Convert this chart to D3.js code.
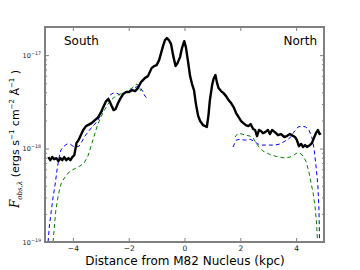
<!DOCTYPE html>
<html>
<head>
<meta charset="utf-8">
<script src="https://cdn.jsdelivr.net/npm/d3@7"></script>
<style>
  body { margin: 0; background: #fff; }
  svg { display: block; font-family: "DejaVu Sans", sans-serif; }
</style>
</head>
<body>
<div id="chart"></div>
<script>
// Flux profile along the M82 minor axis — [distance (kpc), flux (ergs s^-1 cm^-2 A^-1)]
var observed = [
  [-4.88, 8.1e-19], [-4.81, 7.5e-19], [-4.74, 8.1e-19], [-4.67, 7.7e-19], [-4.59, 7.9e-19],
  [-4.52, 7.35e-19], [-4.45, 7.9e-19], [-4.38, 7.5e-19], [-4.31, 8.1e-19], [-4.24, 7.5e-19],
  [-4.16, 7.9e-19], [-4.09, 7.5e-19], [-4.02, 8.1e-19], [-3.95, 8.5e-19], [-3.87, 1.15e-18],
  [-3.80, 1.23e-18], [-3.73, 1.36e-18], [-3.63, 1.58e-18], [-3.53, 1.74e-18], [-3.33, 1.87e-18],
  [-3.21, 2.02e-18], [-3.09, 2.17e-18], [-2.99, 2.46e-18], [-2.91, 2.78e-18], [-2.81, 3.22e-18],
  [-2.73, 3.38e-18], [-2.67, 3.14e-18], [-2.61, 2.85e-18], [-2.54, 2.58e-18], [-2.47, 2.65e-18],
  [-2.38, 3.07e-18], [-2.31, 3.38e-18], [-2.20, 3.83e-18], [-2.10, 4.02e-18], [-1.99, 4.02e-18],
  [-1.88, 4.22e-18], [-1.77, 4.12e-18], [-1.67, 4.44e-18], [-1.56, 5.14e-18], [-1.42, 5.68e-18],
  [-1.31, 5.96e-18], [-1.18, 7.26e-18], [-1.09, 7.63e-18], [-1.00, 7.82e-18], [-0.91, 8.84e-18],
  [-0.84, 1.05e-17], [-0.77, 1.25e-17], [-0.70, 1.45e-17], [-0.63, 1.52e-17], [-0.56, 1.45e-17],
  [-0.48, 1.31e-17], [-0.41, 1.0e-17], [-0.32, 7.63e-18], [-0.25, 8.21e-18], [-0.16, 9.52e-18],
  [-0.09, 1.19e-17], [-0.01, 1.41e-17], [0.05, 1.22e-17], [0.13, 8.42e-18], [0.20, 5.96e-18],
  [0.27, 4.90e-18], [0.34, 4.22e-18], [0.41, 2.99e-18], [0.49, 2.23e-18], [0.56, 1.97e-18],
  [0.67, 1.78e-18], [0.80, 1.70e-18], [0.86, 2.28e-18], [0.91, 3.30e-18], [0.99, 4.78e-18],
  [1.04, 5.54e-18], [1.11, 6.11e-18], [1.16, 5.14e-18], [1.22, 4.44e-18], [1.31, 4.12e-18],
  [1.40, 3.92e-18], [1.49, 3.64e-18], [1.58, 3.30e-18], [1.67, 3.07e-18], [1.76, 2.78e-18],
  [1.85, 2.40e-18], [1.94, 2.17e-18], [2.03, 1.97e-18], [2.11, 1.87e-18], [2.20, 1.78e-18],
  [2.29, 1.74e-18], [2.37, 1.83e-18], [2.46, 1.62e-18], [2.53, 1.58e-18], [2.60, 1.36e-18],
  [2.67, 1.58e-18], [2.74, 1.54e-18], [2.81, 1.46e-18], [2.89, 1.50e-18], [2.99, 1.58e-18],
  [3.06, 1.43e-18], [3.14, 1.58e-18], [3.24, 1.50e-18], [3.35, 1.39e-18], [3.46, 1.43e-18],
  [3.57, 1.33e-18], [3.67, 1.36e-18], [3.78, 1.43e-18], [3.85, 1.39e-18], [3.96, 1.33e-18],
  [4.03, 1.23e-18], [4.10, 1.06e-18], [4.18, 1.12e-18], [4.25, 1.04e-18], [4.32, 1.09e-18],
  [4.39, 1.04e-18], [4.50, 1.09e-18], [4.57, 1.15e-18], [4.64, 1.30e-18], [4.71, 1.46e-18],
  [4.78, 1.58e-18], [4.84, 1.43e-18], [4.89, 1.46e-18]
];

var blueSouth = [
  [-4.89, 1.0e-19], [-4.84, 1.52e-19], [-4.78, 2.09e-19], [-4.71, 3.03e-19], [-4.64, 4.07e-19],
  [-4.57, 5.89e-19], [-4.50, 7.91e-19], [-4.43, 9.64e-19], [-4.32, 1.06e-18], [-4.21, 1.12e-18],
  [-4.10, 1.12e-18], [-4.00, 1.06e-18], [-3.89, 1.04e-18], [-3.78, 1.06e-18], [-3.67, 1.20e-18],
  [-3.57, 1.36e-18], [-3.46, 1.50e-18], [-3.32, 1.70e-18], [-3.21, 1.83e-18], [-3.10, 2.02e-18],
  [-2.99, 2.34e-18], [-2.89, 2.78e-18], [-2.78, 3.30e-18], [-2.67, 3.73e-18], [-2.56, 3.92e-18],
  [-2.42, 3.92e-18], [-2.31, 3.73e-18], [-2.17, 3.83e-18], [-2.03, 4.12e-18], [-1.88, 4.33e-18],
  [-1.74, 4.55e-18], [-1.63, 4.66e-18], [-1.52, 4.22e-18], [-1.42, 3.64e-18], [-1.34, 3.47e-18]
];

var greenSouth = [
  [-4.71, 1.0e-19], [-4.66, 1.52e-19], [-4.61, 2.20e-19], [-4.54, 2.96e-19], [-4.47, 3.78e-19],
  [-4.40, 4.38e-19], [-4.28, 4.96e-19], [-4.17, 5.47e-19], [-4.03, 5.89e-19], [-3.89, 6.18e-19],
  [-3.75, 6.50e-19], [-3.60, 7.0e-19], [-3.46, 8.32e-19], [-3.35, 1.06e-18], [-3.24, 1.36e-18],
  [-3.14, 1.70e-18], [-3.03, 2.07e-18], [-2.89, 2.52e-18], [-2.74, 2.99e-18], [-2.60, 3.38e-18],
  [-2.46, 3.64e-18], [-2.31, 3.83e-18], [-2.17, 3.92e-18], [-2.03, 4.22e-18], [-1.88, 4.44e-18],
  [-1.77, 4.78e-18], [-1.70, 4.90e-18], [-1.63, 4.55e-18], [-1.56, 4.12e-18]
];

var blueNorth = [
  [1.74, 1.04e-18], [1.85, 1.23e-18], [1.99, 1.26e-18], [2.17, 1.23e-18], [2.35, 1.26e-18],
  [2.49, 1.20e-18], [2.63, 1.12e-18], [2.78, 1.09e-18], [2.92, 1.09e-18], [3.06, 1.09e-18],
  [3.24, 1.09e-18], [3.42, 1.12e-18], [3.60, 1.20e-18], [3.78, 1.30e-18], [3.92, 1.50e-18],
  [4.07, 1.70e-18], [4.21, 1.74e-18], [4.35, 1.70e-18], [4.46, 1.58e-18], [4.57, 1.30e-18],
  [4.64, 1.01e-18], [4.71, 6.66e-19], [4.78, 4.07e-19], [4.82, 2.20e-19], [4.84, 1.0e-19]
];

var greenNorth = [
  [1.81, 1.33e-18], [1.92, 1.46e-18], [2.06, 1.43e-18], [2.20, 1.39e-18], [2.35, 1.36e-18],
  [2.46, 1.30e-18], [2.56, 1.15e-18], [2.67, 1.04e-18], [2.81, 9.40e-19], [2.96, 8.95e-19],
  [3.10, 8.52e-19], [3.24, 8.32e-19], [3.42, 8.11e-19], [3.60, 7.91e-19], [3.78, 8.11e-19],
  [3.92, 8.52e-19], [4.03, 8.95e-19], [4.14, 8.95e-19], [4.25, 8.32e-19], [4.35, 7.35e-19],
  [4.46, 5.61e-19], [4.53, 4.38e-19], [4.61, 3.34e-19], [4.68, 2.37e-19], [4.73, 1.64e-19],
  [4.77, 1.0e-19]
];

var xTicks = [-4, -2, 0, 2, 4];
var xTickLabels = ['\u22124', '\u22122', '0', '2', '4'];
var yTicks = [1e-19, 1e-18, 1e-17];
var yTickExponents = ['\u221219', '\u221218', '\u221217'];
var yMinorTicks = [2e-19, 3e-19, 4e-19, 5e-19, 6e-19, 7e-19, 8e-19, 9e-19,
                   2e-18, 3e-18, 4e-18, 5e-18, 6e-18, 7e-18, 8e-18, 9e-18, 2e-17];

var W = 360, H = 270;
var L = 45, R = 324, T = 27, B = 242;
var frameColor = '#808080';

var svg = d3.select('#chart').append('svg')
  .attr('width', W)
  .attr('height', H);

var x = d3.scaleLinear().domain([-5, 5]).range([L, R]);
var y = d3.scaleLog().domain([1e-19, 2e-17]).range([B, T]);

svg.append('defs').append('clipPath').attr('id', 'plot-clip')
  .append('rect')
  .attr('x', L).attr('y', T)
  .attr('width', R - L).attr('height', B - T);

var line = d3.line()
  .x(function(d) { return x(d[0]); })
  .y(function(d) { return y(d[1]); });

var plot = svg.append('g').attr('clip-path', 'url(#plot-clip)');

// model curves (dashed)
[[blueSouth, '#0000ff'], [greenSouth, '#008000'], [blueNorth, '#0000ff'], [greenNorth, '#008000']]
  .forEach(function(s) {
    plot.append('path')
      .datum(s[0])
      .attr('d', line)
      .attr('fill', 'none')
      .attr('stroke', s[1])
      .attr('stroke-width', 1)
      .attr('stroke-dasharray', '4,3');
  });

// observed profile
plot.append('path')
  .datum(observed)
  .attr('d', line)
  .attr('fill', 'none')
  .attr('stroke', '#000')
  .attr('stroke-width', 2.4)
  .attr('stroke-linejoin', 'round');

// ── Axes ──────────────────────────────────────────────────────────────────────
function styleAxis(g) {
  g.select('.domain').remove();
  g.selectAll('.tick line').attr('stroke', frameColor).attr('stroke-width', 1);
}

svg.append('g')
  .attr('transform', 'translate(0,' + B + ')')
  .call(d3.axisBottom(x).tickValues(xTicks).tickSize(-4).tickPadding(4)
    .tickFormat(function(d, i) { return xTickLabels[i]; }))
  .call(styleAxis)
  .selectAll('text')
  .attr('font-size', 7.5)
  .attr('fill', '#222')
  .attr('font-family', '"DejaVu Sans", sans-serif');

svg.append('g')
  .attr('transform', 'translate(0,' + T + ')')
  .call(d3.axisTop(x).tickValues(xTicks).tickSize(-4).tickFormat(''))
  .call(styleAxis);

var yLeft = svg.append('g')
  .attr('transform', 'translate(' + L + ',0)')
  .call(d3.axisLeft(y).tickValues(yTicks).tickSize(-4).tickFormat(''))
  .call(styleAxis);

svg.append('g')
  .attr('transform', 'translate(' + L + ',0)')
  .call(d3.axisLeft(y).tickValues(yMinorTicks).tickSize(-2).tickFormat(''))
  .call(styleAxis);

svg.append('g')
  .attr('transform', 'translate(' + R + ',0)')
  .call(d3.axisRight(y).tickValues(yTicks).tickSize(-4).tickFormat(''))
  .call(styleAxis);

svg.append('g')
  .attr('transform', 'translate(' + R + ',0)')
  .call(d3.axisRight(y).tickValues(yMinorTicks).tickSize(-2).tickFormat(''))
  .call(styleAxis);

// 10^n labels with superscript exponent
yLeft.selectAll('.tick').each(function(d, i) {
  var t = d3.select(this).append('text')
    .attr('x', -4)
    .attr('y', 2)
    .attr('text-anchor', 'end')
    .attr('fill', '#222')
    .attr('font-size', 6.5)
    .attr('font-family', '"DejaVu Sans", sans-serif');
  t.append('tspan').text('10');
  t.append('tspan').attr('dy', -3).attr('font-size', 4.8).text(yTickExponents[i]);
});

// frame
svg.append('rect')
  .attr('x', L).attr('y', T)
  .attr('width', R - L).attr('height', B - T)
  .attr('fill', 'none')
  .attr('stroke', frameColor)
  .attr('stroke-width', 2);

// ── Labels ────────────────────────────────────────────────────────────────────
svg.append('text')
  .attr('x', 64).attr('y', 45)
  .attr('font-size', 12)
  .text('South');

svg.append('text')
  .attr('x', 317).attr('y', 45)
  .attr('text-anchor', 'end')
  .attr('font-size', 12)
  .text('North');

svg.append('text')
  .attr('x', 185).attr('y', 265)
  .attr('text-anchor', 'middle')
  .attr('font-size', 12)
  .text('Distance from M82 Nucleus (kpc)');

var yl = svg.append('text')
  .attr('transform', 'translate(19,139) rotate(-90)')
  .attr('text-anchor', 'middle')
  .attr('font-size', 11);
yl.append('tspan').attr('font-family', '"DejaVu Serif", serif').attr('font-style', 'italic')
  .attr('font-size', 12).text('F');
yl.append('tspan').attr('font-family', '"DejaVu Serif", serif').attr('font-style', 'italic')
  .attr('font-size', 7).attr('dy', 3).text('obs,\u03bb');
yl.append('tspan').attr('dy', -3).text(' (ergs s');
yl.append('tspan').attr('font-size', 7).attr('dy', -5).text('\u22121');
yl.append('tspan').attr('dy', 5).text(' cm');
yl.append('tspan').attr('font-size', 7).attr('dy', -5).text('\u22122');
yl.append('tspan').attr('dy', 5).text(' \u00c5');
yl.append('tspan').attr('font-size', 7).attr('dy', -5).text('\u22121');
yl.append('tspan').attr('dy', 5).text(' )');
</script>
</body>
</html>
